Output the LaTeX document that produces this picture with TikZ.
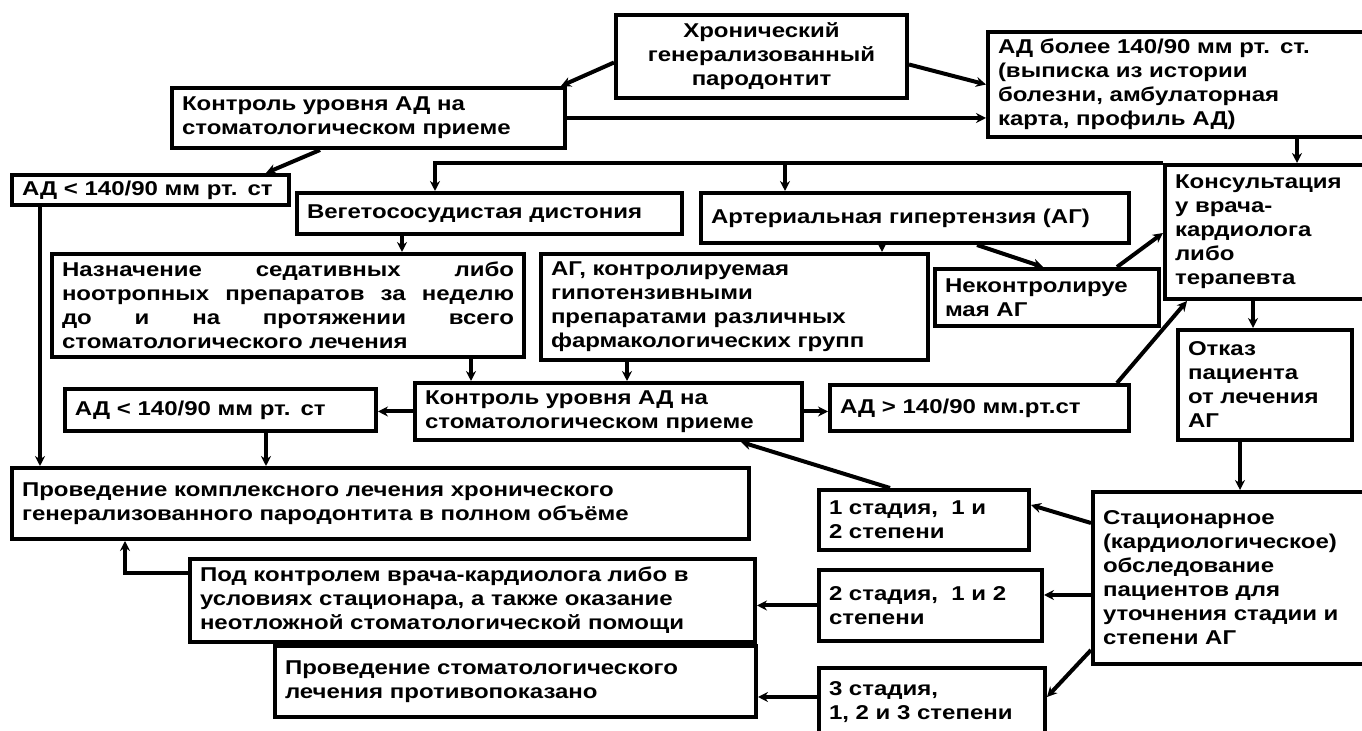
\documentclass[tikz,border=0pt]{standalone}
\usepackage{fontspec}
\setmainfont{Liberation Sans}[FakeStretch=1.2]
\usetikzlibrary{arrows.meta}

\begin{document}
\begin{tikzpicture}[x=0.5pt, y=-0.5pt,
    box/.style={draw, line width=2pt, anchor=north west, inner xsep=5pt, inner ysep=2pt,
      align=left, font=\bfseries\fontsize{10}{12}\selectfont},
    arr/.style={line width=2pt, -{Stealth[length=5pt, width=5pt]}}]
  \useasboundingbox[fill=white] (0,0) rectangle (1362,731);

  % top row
  \node[box, align=center, text width=135.5pt, minimum height=41.5pt] (chron) at (614,13)
    {Хронический\\генерализованный\\пародонтит};
  \node[box, text width=187pt, minimum height=52.5pt] (adbol) at (986,30)
    {АД более 140/90 мм рт. ст.\\(выписка из истории\\болезни, амбулаторная\\карта, профиль АД)};
  \node[box, text width=186.5pt, minimum height=30pt] (kontr1) at (170,86)
    {Контроль уровня АД на\\стоматологическом приеме};
  \node[box, text width=128.5pt, minimum height=15pt] (adless1) at (10,173)
    {АД < 140/90 мм рт. ст};

  % diagnosis
  \node[box, text width=182.5pt, minimum height=20.5pt] (vegeto) at (295,191)
    {Вегетососудистая дистония};
  \node[box, text width=204pt, minimum height=25pt] (ag) at (699,191)
    {Артериальная гипертензия (АГ)};
  \node[box, text width=98.5pt, minimum height=67pt] (konsult) at (1163,163)
    {Консультация\\у врача-\\кардиолога\\либо\\терапевта};
  \node[box, align=justify, text width=226pt, minimum height=51.5pt] (naznach) at (50,252)
    {Назначение седативных либо\linebreak ноотропных препаратов за неделю\linebreak
     до и на протяжении всего\linebreak стоматологического лечения};
  \node[box, text width=183.5pt, minimum height=53pt] (agkontr) at (539,252)
    {АГ, контролируемая\\гипотензивными\\препаратами различных\\фармакологических групп};
  \node[box, text width=102pt, minimum height=28.5pt] (nekontr) at (933,267)
    {Неконтролируе\\мая АГ};
  \node[box, text width=77pt, minimum height=55pt] (otkaz) at (1176,328)
    {Отказ\\пациента\\от лечения\\АГ};

  % second control
  \node[box, text width=183.5pt, minimum height=28.5pt] (kontr2) at (413,381)
    {Контроль уровня АД на\\стоматологическом приеме};
  \node[box, text width=145.5pt, minimum height=21pt] (adless2) at (63,387)
    {АД < 140/90 мм рт. ст};
  \node[box, text width=139.5pt, minimum height=23pt] (admore) at (828,383)
    {АД > 140/90 мм.рт.ст};

  % treatment
  \node[box, text width=358.5pt, minimum height=35.5pt] (provkompl) at (10,466)
    {Проведение комплексного лечения хронического\\генерализованного пародонтита в полном объёме};
  \node[box, text width=95pt, minimum height=30pt] (st1) at (817,488)
    {1 стадия, \ 1 и\\2 степени};
  \node[box, text width=134.5pt, minimum height=86pt] (stac) at (1091,490)
    {Стационарное\\(кардиологическое)\\обследование\\пациентов для\\уточнения стадии и\\степени АГ};
  \node[box, text width=272.5pt, minimum height=41.5pt] (podkontr) at (188,557)
    {Под контролем врача-кардиолога либо в\\условиях стационара, а также оказание\\неотложной стоматологической помощи};
  \node[box, text width=101.5pt, minimum height=35.5pt] (st2) at (817,568)
    {2 стадия, \ 1 и 2\\степени};
  \node[box, text width=230.5pt, minimum height=35.5pt] (provstom) at (273,644)
    {Проведение стоматологического\\лечения противопоказано};
  \node[box, text width=103pt, minimum height=34.5pt] (st3) at (817,666)
    {3 стадия,\\1, 2 и 3 степени};

  % connectors
  \draw[arr] ([yshift=-3pt]chron.west) -- ([xshift=-3pt]kontr1.north east);
  \draw[arr] ([yshift=-4pt]chron.east) -- (adbol.west);
  \draw[arr] (kontr1.east) -- (kontr1.east -| adbol.west);
  \draw[arr] ([xshift=75pt]kontr1.south west) -- ([xshift=-12.5pt]adless1.north east);
  \draw[arr] ([xshift=15pt]adless1.south west) -- ([xshift=15pt]adless1.south west |- provkompl.north);
  \draw[arr] ([xshift=67pt]konsult.north west |- adbol.south) -- ([xshift=67pt]konsult.north west);
  \draw[arr, rounded corners=0pt] (konsult.north west) -| ([xshift=70pt]vegeto.north west);
  \draw[arr] ([xshift=43pt]ag.north west |- konsult.north west) -- ([xshift=43pt]ag.north west);
  \draw[arr] ([xshift=53.5pt]vegeto.south west) -- ([xshift=53.5pt]vegeto.south west |- naznach.north);
  \draw[arr] ([xshift=91.5pt]ag.south west) -- ([xshift=91.5pt]ag.south west |- agkontr.north);
  \draw[arr] ([xshift=139pt]ag.south west) -- ([xshift=55pt]nekontr.north west);
  \draw[arr] ([xshift=92pt]nekontr.north west) -- ([yshift=-35pt]konsult.north west);
  \draw[arr] ([xshift=-7pt]admore.north east) -- ([xshift=12pt]konsult.south west);
  \draw[arr] ([xshift=45pt]konsult.south west) -- ([xshift=45pt]konsult.south west |- otkaz.north);
  \draw[arr] ([xshift=32pt]otkaz.south west) -- ([xshift=32pt]otkaz.south west |- stac.north);
  \draw[arr] ([xshift=-27.5pt]naznach.south east) -- ([xshift=-27.5pt]naznach.south east |- kontr2.north);
  \draw[arr] ([xshift=44pt]agkontr.south west) -- ([xshift=44pt]agkontr.south west |- kontr2.north);
  \draw[arr] (kontr2.west) -- (kontr2.west -| adless2.east);
  \draw[arr] (kontr2.east) -- (kontr2.east -| admore.west);
  \draw[arr] ([xshift=101.5pt]adless2.south west) -- ([xshift=101.5pt]adless2.south west |- provkompl.north);
  \draw[arr] ([xshift=36.5pt]st1.north west) -- ([xshift=-31.5pt]kontr2.south east);
  \draw[arr] ([yshift=-16.5pt]stac.north west) -- ([yshift=-8.5pt]st1.north east);
  \draw[arr] ([yshift=-52.5pt]stac.north west) -- ([yshift=-52.5pt]stac.north west -| st2.east);
  \draw[arr] ([yshift=-80pt]stac.north west) -- ([yshift=-15.5pt]st3.north east);
  \draw[arr] (st2.west) -- (st2.west -| podkontr.east);
  \draw[arr] ([yshift=-15.5pt]st3.north west) -- ([yshift=-15.5pt]st3.north west -| provstom.east);
  \draw[arr] ([yshift=-8pt]podkontr.north west) -| ([xshift=57.5pt]provkompl.south west);
\end{tikzpicture}
\end{document}
